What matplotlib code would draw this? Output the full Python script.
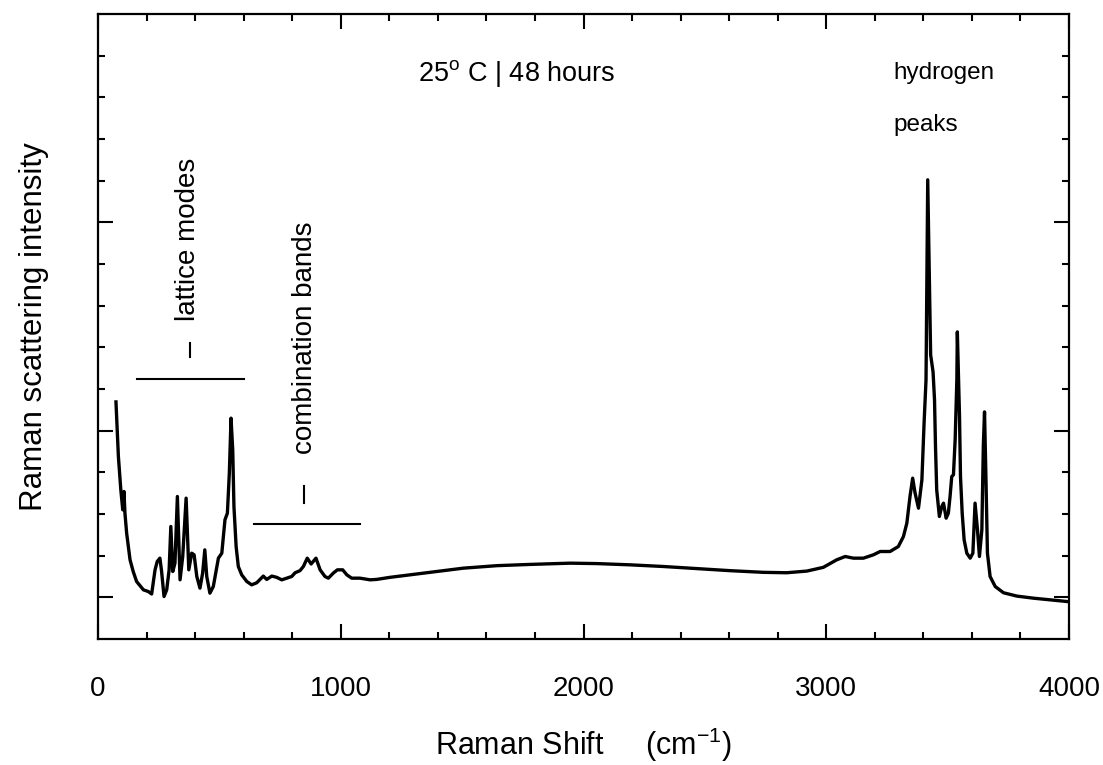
import matplotlib
matplotlib.use("Agg")
import matplotlib.pyplot as plt
from matplotlib.ticker import FixedLocator, NullFormatter

plt.rcParams['font.family'] = ['Liberation Sans', 'DejaVu Sans']
plt.rcParams['mathtext.fontset'] = 'custom'
plt.rcParams['mathtext.rm'] = 'Liberation Sans'

# Raman shift (cm^-1) and intensity (arbitrary units)
shift_cm1 = [74, 84, 94, 102, 107, 111, 118, 132, 145, 159, 187, 207, 221, 235, 244, 255,
             262, 272, 283, 293, 300, 308, 317, 327, 338, 349, 363, 374, 386, 396, 407, 420,
             431, 440, 448, 461, 475, 496, 510, 523, 533, 541, 548, 555, 560, 569, 578, 592,
             613, 633, 654, 681, 695, 716, 736, 757, 777, 798, 812, 832, 846, 862, 878, 898,
             915, 935, 949, 969, 986, 1008, 1025, 1045, 1079, 1121, 1148, 1203, 1285, 1368,
             1505, 1643, 1780, 1945, 2055, 2192, 2329, 2467, 2604, 2741, 2837, 2920, 2988,
             3043, 3078, 3112, 3153, 3194, 3222, 3263, 3297, 3318, 3332, 3345, 3356, 3366,
             3380, 3394, 3403, 3411, 3418, 3430, 3440, 3446, 3450, 3455, 3466, 3476, 3483,
             3494, 3503, 3510, 3517, 3524, 3531, 3538, 3540, 3549, 3553, 3560, 3568, 3579,
             3593, 3604, 3613, 3623, 3631, 3641, 3647, 3652, 3658, 3664, 3675, 3696, 3730,
             3785, 3853, 3922, 3991]
intensity = [5.69, 4.38, 3.58, 3.10, 3.54, 3.02, 2.54, 1.90, 1.62, 1.38, 1.18, 1.14, 1.08, 1.66,
             1.86, 1.94, 1.62, 1.02, 1.18, 1.66, 2.70, 1.62, 1.82, 3.42, 1.42, 1.98, 3.38, 1.66,
             2.06, 2.02, 1.50, 1.22, 1.58, 2.14, 1.50, 1.10, 1.26, 1.94, 2.06, 2.86, 3.02, 3.98,
             5.30, 4.54, 3.18, 2.22, 1.74, 1.54, 1.38, 1.30, 1.35, 1.51, 1.43, 1.51, 1.48, 1.42,
             1.46, 1.50, 1.59, 1.64, 1.74, 1.94, 1.80, 1.94, 1.66, 1.50, 1.46, 1.58, 1.66, 1.66,
             1.54, 1.46, 1.46, 1.42, 1.43, 1.48, 1.54, 1.60, 1.70, 1.76, 1.79, 1.82, 1.81, 1.78,
             1.74, 1.69, 1.64, 1.60, 1.59, 1.63, 1.72, 1.90, 1.98, 1.94, 1.94, 2.02, 2.10, 2.10,
             2.22, 2.46, 2.78, 3.42, 3.86, 3.50, 3.14, 3.82, 5.18, 6.22, 11.02, 6.82, 6.41, 5.74,
             4.63, 3.58, 2.94, 3.18, 3.26, 2.90, 3.02, 3.42, 3.90, 3.94, 4.78, 6.22, 7.37, 5.34,
             3.90, 3.02, 2.38, 2.06, 1.94, 2.06, 3.26, 2.62, 1.98, 2.62, 4.62, 5.45, 3.82, 2.06,
             1.50, 1.26, 1.11, 1.03, 0.98, 0.94, 0.90]

x_major = [0, 1000, 2000, 3000, 4000]
x_tick_labels = ["0", "1000", "2000", "3000", "4000"]
title_text = r"25$^{\rm o}$ C | 48 hours"

fig = plt.figure(figsize=(11.03, 7.65), dpi=100)
ax = fig.add_axes([98/1103, 1 - 639/765, (1069-98)/1103, (639-14)/765])

ax.plot(shift_cm1, intensity, color='black', lw=2.4, solid_joinstyle='round')

ax.set_xlim(0, 4000)
ax.set_ylim(0, 15)

ax.set_xticks(x_major)
ax.set_xticklabels(x_tick_labels)
ax.xaxis.set_minor_locator(FixedLocator(list(range(0, 4001, 200))))
ax.yaxis.set_major_locator(FixedLocator([1, 5, 10]))
ax.yaxis.set_minor_locator(FixedLocator(list(range(1, 15))))
ax.yaxis.set_major_formatter(NullFormatter())

ax.tick_params(which='both', direction='in', top=True, right=True, width=1.5)
ax.tick_params(which='major', length=11)
ax.tick_params(which='minor', length=5)
ax.tick_params(axis='x', which='major', labelsize=20, pad=27)
for s in ax.spines.values():
    s.set_linewidth(1.6)

ax.set_xlabel(r"Raman Shift     (cm$^{-1}$)", fontsize=22, labelpad=17)
ax.set_ylabel("Raman scattering intensity", fontsize=22.5, labelpad=32)

ax.text(1726, 13.58, title_text, fontsize=19.5, ha='center', va='center')
ax.text(3275, 13.58, "hydrogen", fontsize=17.5, ha='left', va='center')
ax.text(3275, 12.33, "peaks", fontsize=17.5, ha='left', va='center')

ax.text(371, 9.58, "lattice modes", fontsize=20, rotation=90, ha='center', va='center')
ax.plot([161, 601], [6.24, 6.24], color='black', lw=1.5)
ax.plot([379, 379], [6.77, 7.10], color='black', lw=1.5)

ax.text(853, 7.22, "combination bands", fontsize=20, rotation=90, ha='center', va='center')
ax.plot([643, 1079], [2.76, 2.76], color='black', lw=1.5)
ax.plot([849, 849], [3.26, 3.67], color='black', lw=1.5)

fig.savefig("out.png", dpi=100)
